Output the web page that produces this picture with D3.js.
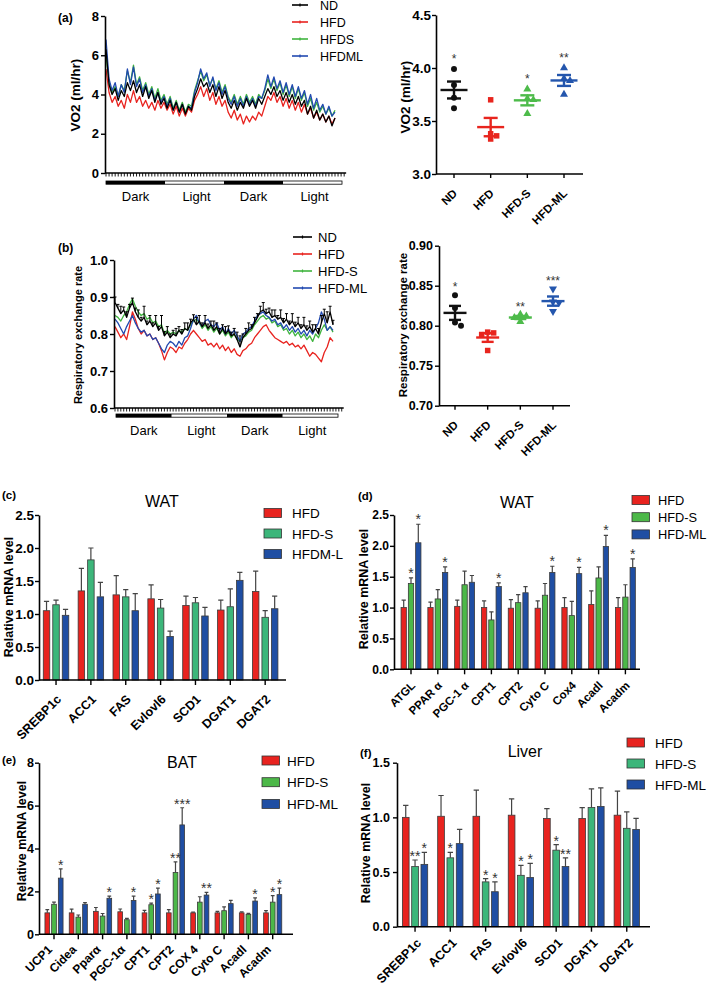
<!DOCTYPE html>
<html><head><meta charset="utf-8">
<script src="https://cdn.jsdelivr.net/npm/d3@7/dist/d3.min.js"></script>
<style>body{margin:0;background:#fff} svg{font-family:Arial,"Liberation Sans",sans-serif}</style>
</head><body>
<svg id="fig" width="709" height="985"></svg>
<script>
// ---------------- DATA ----------------
const phases = ["Dark","Light","Dark","Light"];

const aTimeND = [6.3,4.5,4.0,4.3,3.7,4.2,3.9,4.6,4.2,4.7, 4.1,4.5,3.9,4.4,3.8,4.2,3.6,4.1,3.5,3.8, 3.3,3.7,3.2,3.6,3.1,3.5,3.0,3.4,3.2,3.9, 4.3,4.8,4.4,4.6,4.1,4.5,3.9,4.4,3.8,4.2, 3.6,3.3,3.7,3.2,3.6,3.3,3.8,3.4,3.7,3.3, 3.8,3.5,3.9,4.3,4.0,4.4,3.9,4.2,3.7,4.1, 3.6,4.0,3.5,3.9,3.4,3.7,3.0,3.4,2.8,3.2, 2.7,3.0,2.6,2.9,2.4,2.8];
const aTimeHFD = [5.3,4.1,3.6,3.9,3.4,3.7,3.3,4.0,3.6,4.2, 3.6,3.9,3.4,3.7,3.3,3.6,3.2,3.7,3.3,3.6, 3.2,3.5,3.0,3.4,2.9,3.3,2.9,3.3,3.1,3.7, 4.0,4.4,3.9,4.3,3.7,4.1,3.5,3.9,3.4,3.7, 3.1,2.8,3.2,2.7,3.0,2.5,2.9,2.6,2.9,2.7, 3.1,2.9,3.4,3.9,3.7,4.1,3.6,3.9,3.4,3.8, 3.3,3.7,3.2,3.6,3.1,3.5,3.0,3.3,2.8,3.1, 2.7,3.0,2.6,2.9,2.5,2.8];
const aTimeHFDS = [6.0,4.6,4.1,4.4,3.9,4.5,4.2,5.2,4.6,5.5, 4.5,4.9,4.2,4.6,4.0,4.4,3.8,4.3,3.7,4.0, 3.5,3.9,3.3,3.7,3.2,3.6,3.1,3.5,3.4,4.2, 4.7,5.2,4.7,5.0,4.5,4.8,4.3,4.7,4.1,4.5, 3.9,3.6,4.0,3.5,3.9,3.5,4.0,3.6,3.9,3.5, 4.0,3.8,4.2,4.8,4.3,4.8,4.2,4.6,4.0,4.5, 3.9,4.4,3.8,4.3,3.7,4.1,3.4,3.8,3.2,3.6, 3.1,3.4,3.0,3.3,2.9,3.2];
const aTimeHFDML = [6.8,4.8,4.2,4.6,3.9,4.5,4.1,5.3,4.5,5.4, 4.4,4.8,4.1,4.5,3.9,4.3,3.7,4.1,3.6,3.9, 3.4,3.8,3.2,3.6,3.1,3.5,3.0,3.4,3.3,4.1, 4.6,5.3,4.8,5.1,4.4,4.9,4.2,4.6,4.0,4.4, 3.8,3.5,3.9,3.4,3.8,3.4,3.9,3.5,3.8,3.4, 3.9,3.8,4.3,5.0,4.4,4.9,4.3,4.7,4.1,4.6, 4.0,4.5,3.9,4.4,3.8,4.2,3.5,4.0,3.3,3.8, 3.2,3.5,3.0,3.4,2.9,3.1];

const bTimeND = [0.885,0.87,0.855,0.865,0.845,0.87,0.885,0.86,0.845,0.835, 0.845,0.825,0.835,0.82,0.83,0.81,0.82,0.795,0.805,0.79, 0.80,0.795,0.81,0.80,0.815,0.81,0.83,0.84,0.825,0.835, 0.82,0.83,0.815,0.825,0.81,0.82,0.80,0.815,0.80,0.81, 0.795,0.80,0.785,0.765,0.79,0.80,0.81,0.815,0.83,0.845, 0.86,0.865,0.855,0.86,0.845,0.85,0.84,0.845,0.83,0.84, 0.825,0.835,0.82,0.83,0.815,0.825,0.81,0.82,0.805,0.815, 0.80,0.83,0.855,0.83,0.86,0.825];
const bErrND = [0.015,0.01,0.02,0.008,0.015,0.01,0.012,0.01,0.02,0.01, 0.03,0.01,0.015,0.01,0.02,0.01,0.03,0.012,0.015,0.01, 0.01,0.02,0.01,0.012,0.015,0.02,0.01,0.012,0.02,0.015, 0.01,0.02,0.012,0.01,0.025,0.01,0.015,0.01,0.02,0.012, 0.01,0.015,0.02,0.03,0.01,0.015,0.02,0.01,0.015,0.01, 0.015,0.02,0.012,0.01,0.02,0.015,0.01,0.02,0.012,0.015, 0.01,0.02,0.012,0.015,0.01,0.02,0.012,0.015,0.02,0.01, 0.015,0.02,0.012,0.03,0.015,0.012];
const bTimeHFD = [0.82,0.805,0.79,0.80,0.785,0.82,0.86,0.84,0.815,0.80, 0.81,0.795,0.80,0.785,0.79,0.775,0.755,0.73,0.75,0.765, 0.76,0.75,0.765,0.76,0.775,0.785,0.80,0.81,0.80,0.79, 0.78,0.785,0.77,0.775,0.765,0.775,0.76,0.77,0.755,0.765, 0.75,0.76,0.745,0.74,0.755,0.76,0.77,0.775,0.79,0.80, 0.81,0.82,0.825,0.81,0.80,0.79,0.785,0.78,0.775,0.78, 0.77,0.775,0.765,0.77,0.76,0.77,0.755,0.74,0.75,0.745, 0.735,0.725,0.75,0.765,0.79,0.78];
const bTimeHFDS = [0.85,0.845,0.835,0.85,0.86,0.88,0.895,0.875,0.86,0.85, 0.855,0.84,0.845,0.83,0.835,0.82,0.825,0.80,0.81,0.80, 0.805,0.80,0.81,0.805,0.815,0.81,0.825,0.835,0.84,0.83, 0.815,0.825,0.81,0.82,0.805,0.815,0.80,0.81,0.795,0.805, 0.79,0.80,0.785,0.78,0.79,0.795,0.805,0.81,0.825,0.835, 0.845,0.85,0.84,0.845,0.83,0.835,0.82,0.825,0.81,0.815, 0.80,0.81,0.795,0.805,0.79,0.80,0.785,0.795,0.78,0.80, 0.79,0.81,0.825,0.81,0.82,0.805];
const bTimeHFDML = [0.84,0.83,0.815,0.80,0.82,0.835,0.85,0.83,0.815,0.805, 0.81,0.795,0.80,0.785,0.79,0.775,0.76,0.75,0.77,0.78, 0.775,0.765,0.78,0.77,0.79,0.795,0.815,0.84,0.85,0.83, 0.82,0.835,0.84,0.825,0.82,0.83,0.81,0.82,0.80,0.815, 0.80,0.81,0.795,0.78,0.80,0.805,0.815,0.82,0.835,0.85, 0.855,0.86,0.85,0.845,0.835,0.84,0.825,0.83,0.815,0.825, 0.81,0.82,0.805,0.815,0.80,0.81,0.795,0.81,0.80,0.815, 0.83,0.86,0.84,0.81,0.82,0.81];

const dotGroups = ["ND","HFD","HFD-S","HFD-ML"];
const aPtsND = [3.99,3.84,3.72,3.62];
const aPtsHFD = [3.70,3.38,3.36,3.33];
const aPtsHFDS = [3.80,3.71,3.70,3.57];
const aPtsHFDML = [4.00,3.90,3.88,3.75];
const aStars = ["*","","*","**"];
const bPtsND = [0.838,0.822,0.804,0.800];
const bPtsHFD = [0.792,0.791,0.789,0.769];
const bPtsHFDS = [0.814,0.812,0.810,0.805];
const bPtsHFDML = [0.846,0.830,0.829,0.818];
const bStars = ["*","","**","***"];

const cGenes = ["SREBP1c","ACC1","FAS","Evlovl6","SCD1","DGAT1","DGAT2"];
const cSeries = ["HFD","HFD-S","HFDM-L"];
const cHFD = [1.05,1.35,1.29,1.23,1.13,1.06,1.34];
const cHFDerr = [0.14,0.34,0.29,0.21,0.14,0.15,0.31];
const cHFDS = [1.14,1.82,1.26,1.09,1.17,1.11,0.95];
const cHFDSerr = [0.07,0.18,0.11,0.13,0.08,0.27,0.10];
const cHFDML = [0.98,1.26,1.05,0.66,0.97,1.51,1.08];
const cHFDMLerr = [0.09,0.22,0.26,0.08,0.13,0.12,0.19];
const cStars = [];

const dGenes = ["ATGL","PPAR α","PGC-1 α","CPT1","CPT2","Cyto C","Cox4","Acadl","Acadm"];
const dSeries = ["HFD","HFD-S","HFD-ML"];
const dHFD = [1.0,1.0,1.02,1.0,0.99,0.99,1.0,1.05,1.0];
const dHFDerr = [0.12,0.09,0.10,0.11,0.14,0.12,0.16,0.22,0.16];
const dHFDS = [1.39,1.14,1.37,0.80,1.08,1.20,0.87,1.48,1.17];
const dHFDSerr = [0.09,0.15,0.22,0.13,0.13,0.19,0.23,0.18,0.20];
const dHFDML = [2.05,1.57,1.41,1.34,1.24,1.57,1.55,1.99,1.65];
const dHFDMLerr = [0.30,0.09,0.11,0.06,0.10,0.10,0.10,0.18,0.14];
const dStars = [[0,1,"*"],[0,2,"*"],[1,2,"*"],[3,2,"*"],[5,2,"*"],[6,2,"*"],[7,2,"*"],[8,2,"*"]];

const eGenes = ["UCP1","Cidea","Pparα","PGC-1α","CPT1","CPT2","COX 4","Cyto C","Acadl","Acadm"];
const eSeries = ["HFD","HFD-S","HFD-ML"];
const eHFD = [1.0,1.0,1.07,1.05,1.0,1.0,1.0,1.0,1.0,1.0];
const eHFDerr = [0.15,0.17,0.18,0.13,0.12,0.15,0.03,0.07,0.05,0.10];
const eHFDS = [1.4,0.8,0.85,0.68,1.38,2.88,1.5,1.1,0.93,1.5];
const eHFDSerr = [0.10,0.10,0.12,0.06,0.07,0.50,0.25,0.18,0.05,0.30];
const eHFDML = [2.62,1.4,1.68,1.58,1.88,5.1,1.83,1.43,1.55,1.85];
const eHFDMLerr = [0.43,0.08,0.10,0.20,0.27,0.80,0.12,0.15,0.15,0.30];
const eStars = [[0,2,"*"],[2,2,"*"],[3,2,"*"],[4,1,"*"],[4,2,"*"],[5,1,"**"],[5,2,"***"],[6,2,"**"],[8,2,"*"],[9,1,"*"],[9,2,"*"]];

const fGenes = ["SREBP1c","ACC1","FAS","Evlovl6","SCD1","DGAT1","DGAT2"];
const fSeries = ["HFD","HFD-S","HFD-ML"];
const fHFD = [1.0,1.01,1.01,1.02,0.99,0.99,1.02];
const fHFDerr = [0.11,0.19,0.24,0.15,0.09,0.10,0.22];
const fHFDS = [0.55,0.63,0.41,0.47,0.70,1.09,0.90];
const fHFDSerr = [0.06,0.05,0.03,0.09,0.05,0.17,0.15];
const fHFDML = [0.57,0.76,0.32,0.45,0.55,1.10,0.89];
const fHFDMLerr = [0.11,0.13,0.09,0.13,0.08,0.17,0.10];
const fStars = [[0,1,"**"],[0,2,"*"],[1,1,"*"],[2,1,"*"],[2,2,"*"],[3,1,"*"],[3,2,"*"],[4,1,"*"],[4,2,"**"]];

// ---------------- DRAWING ----------------
const FONT = 'Arial, "Liberation Sans", sans-serif';
const svg = d3.select("#fig");
const lineCol = {black:"#000", red:"#e8231f", green:"#3fb43e", blue:"#2149b0"};
const dotCol = ["#111","#e8251e","#4dbb4a","#2456ad"];

function styleAxis(g, fs){
  g.attr("font-family", FONT).attr("font-size", fs);
  g.select(".domain").attr("stroke","#000").attr("stroke-width",1.6);
  g.selectAll(".tick line").attr("stroke","#000").attr("stroke-width",1.4);
  g.selectAll(".tick text").attr("font-weight","bold").attr("fill","#000");
}
function txt(x,y,s,opt={}){
  const t = svg.append("text").attr("x",x).attr("y",y).text(s)
    .attr("font-family",FONT).attr("font-size",opt.fs||13)
    .attr("font-weight",opt.fw||"normal").attr("fill",opt.fill||"#000")
    .attr("text-anchor",opt.anchor||"start");
  if(opt.rot!==undefined) t.attr("transform",`rotate(${opt.rot},${x},${y})`);
  return t;
}

function tsPanel(o){
  const g = svg.append("g");
  const x = d3.scaleLinear().domain([0,o.series[0].vals.length-1]).range([o.dx0,o.dx1]);
  const y = d3.scaleLinear().domain(o.ydom).range([o.yb,o.yt]);
  const line = d3.line().x((d,i)=>x(i)).y(d=>y(d));
  o.series.forEach(s=>{
    if(s.err){
      g.selectAll(null).data(s.vals).join("path")
        .attr("d",(d,i)=>`M${x(i)},${y(d)}V${y(d+s.err[i])}M${x(i)-1.5},${y(d+s.err[i])}H${x(i)+1.5}`)
        .attr("stroke",s.color).attr("stroke-width",1);
    }
    g.append("path").datum(s.vals).attr("d",line).attr("fill","none")
      .attr("stroke",s.color).attr("stroke-width",1.3).attr("stroke-linejoin","round");
  });
  const ya = g.append("g").attr("transform",`translate(${o.ax},0)`)
    .call(d3.axisLeft(y).tickValues(o.yticks).tickFormat(o.yfmt).tickSize(4).tickPadding(2).tickSizeOuter(0));
  styleAxis(ya, 13);
  const nT = o.nTicks;
  const xt = d3.range(nT);
  g.append("line").attr("x1",o.ax).attr("x2",x(nT-1)+2).attr("y1",o.yb).attr("y2",o.yb)
    .attr("stroke","#000").attr("stroke-width",1.6);
  g.selectAll(null).data(xt).join("line")
    .attr("x1",d=>x(d)).attr("x2",d=>x(d)).attr("y1",o.yb).attr("y2",o.yb+3.5)
    .attr("stroke","#000").attr("stroke-width",0.9);
  const p = d3.scaleLinear().domain([0,phases.length]).range([o.px0,o.px1]);
  g.append("rect").attr("x",p(0)).attr("y",o.barY).attr("width",p(4)-p(0)).attr("height",3.2)
    .attr("fill","#fff").attr("stroke","#000").attr("stroke-width",0.8);
  phases.forEach((ph,i)=>{
    if(ph==="Dark") g.append("rect").attr("x",p(i)).attr("y",o.barY).attr("width",p(i+1)-p(i)).attr("height",3.2).attr("fill","#000");
    txt((p(i)+p(i+1))/2+ (ph==="Light"?2:0), o.labY, ph, {fs:13, anchor:"middle"});
  });
  o.series.slice().sort((a,b)=>a.order-b.order).forEach((s,i)=>{
    const ly = o.legY + i*o.legDy;
    g.append("line").attr("x1",o.legX).attr("x2",o.legX+o.legW).attr("y1",ly).attr("y2",ly)
      .attr("stroke",s.color).attr("stroke-width",1.6);
    g.append("line").attr("x1",o.legX+o.legW/2).attr("x2",o.legX+o.legW/2).attr("y1",ly-1.5).attr("y2",ly+1.5)
      .attr("stroke",s.color).attr("stroke-width",1.2);
    txt(o.legX+o.legW+o.legGap, ly+4.5, s.name, {fs:o.legFs});
  });
}

function dotPanel(o){
  const g = svg.append("g");
  const x = d3.scalePoint().domain(dotGroups).range([o.gx0,o.gx1]);
  const y = d3.scaleLinear().domain(o.ydom).range([o.yb,o.yt]);
  const ya = g.append("g").attr("transform",`translate(${o.ax},0)`)
    .call(d3.axisLeft(y).tickValues(o.yticks).tickFormat(o.yfmt).tickSize(4).tickPadding(o.tickPad).tickSizeOuter(0));
  styleAxis(ya, o.tickFs);
  g.append("line").attr("x1",o.ax).attr("x2",o.axEnd).attr("y1",o.yb).attr("y2",o.yb).attr("stroke","#000").attr("stroke-width",1.6);
  dotGroups.forEach((gr,gi)=>{
    const cx = x(gr);
    g.append("line").attr("x1",cx).attr("x2",cx).attr("y1",o.yb).attr("y2",o.yb+4).attr("stroke","#000").attr("stroke-width",1.4);
    txt(cx+o.lblDx, o.yb+o.lblDy, gr, {fs:11.5, fw:"bold", anchor:"end", rot:-45});
    const pts = o.pts[gi];
    const col = dotCol[gi];
    const m = d3.mean(pts), se = d3.deviation(pts)/Math.sqrt(pts.length);
    const placed = [];
    pts.slice().sort((a,b)=>b-a).forEach(v=>{
      const py = y(v);
      const offs=[0,6,-6,12,-12];
      let dx=0;
      for(const off of offs){
        if(placed.every(q=>Math.hypot(q.dx-off,q.py-py)>=5)){dx=off;break;}
      }
      placed.push({dx,py,v});
    });
    const sym = o.symbols[gi];
    placed.forEach(q=>{
      g.append("path").attr("d",d3.symbol().type(sym.type).size(sym.size)())
        .attr("transform",`translate(${cx+q.dx},${q.py}) rotate(${sym.rot||0})`).attr("fill",col);
    });
    g.append("line").attr("x1",cx-o.mw/2).attr("x2",cx+o.mw/2).attr("y1",y(m)).attr("y2",y(m)).attr("stroke",col).attr("stroke-width",2.4);
    g.append("line").attr("x1",cx).attr("x2",cx).attr("y1",y(m-se)).attr("y2",y(m+se)).attr("stroke",col).attr("stroke-width",2.4);
    [m-se,m+se].forEach(v=>g.append("line").attr("x1",cx-o.sw/2).attr("x2",cx+o.sw/2).attr("y1",y(v)).attr("y2",y(v)).attr("stroke",col).attr("stroke-width",2.4));
    if(o.stars[gi]) txt(cx, y(d3.max(pts))-o.starOff, o.stars[gi], {fs:12, anchor:"middle", fill:"#333"});
  });
  txt(o.ylabX, o.ylabY, o.ylab, {fs:o.ylabFs, fw:"bold", anchor:"middle", rot:-90});
}

function barPanel(o){
  const g = svg.append("g");
  const x = d3.scaleBand().domain(o.genes).range([o.bx0,o.bx1]).padding(0);
  const pin = 1 - o.bw/o.istep;
  const xi = d3.scaleBand().domain([0,1,2]).range([x.bandwidth()/2-1.5*o.istep, x.bandwidth()/2+1.5*o.istep]).paddingInner(pin).paddingOuter(pin/2);
  const y = d3.scaleLinear().domain([0,o.ymax]).range([o.y0,o.y1]);
  const bw = xi.bandwidth();
  o.vals.forEach((vals,s)=>{
    const errs = o.errs[s];
    g.selectAll(null).data(vals).join("path")
      .attr("d",(d,i)=>{const cx=x(o.genes[i])+xi(s)+bw/2, t=y(d), e=y(d+errs[i]), cw=bw*0.4;
        return `M${cx},${t}V${e}M${cx-cw},${e}H${cx+cw}`;})
      .attr("stroke","#444").attr("stroke-width",1.2).attr("fill","none");
    g.selectAll(null).data(vals).join("rect")
      .attr("x",(d,i)=>x(o.genes[i])+xi(s)).attr("y",d=>y(d))
      .attr("width",bw).attr("height",d=>y(0)-y(d))
      .attr("fill",o.colors[s]).attr("stroke","#3a3a3a").attr("stroke-width",0.8);
  });
  o.stars.forEach(([gi,s,lab])=>{
    const cx = x(o.genes[gi])+xi(s)+bw/2;
    const v = o.vals[s][gi]+o.errs[s][gi];
    txt(cx, y(v)+o.starDy, lab, {fs:o.starFs, anchor:"middle", fill:"#333"});
  });
  const ya = g.append("g").attr("transform",`translate(${o.ax},0)`)
    .call(d3.axisLeft(y).tickValues(o.yticks).tickFormat(o.yfmt).tickSize(4).tickPadding(o.tickPad).tickSizeOuter(0));
  styleAxis(ya, o.tickFs);
  g.append("line").attr("x1",o.ax).attr("x2",o.axEnd).attr("y1",o.y0).attr("y2",o.y0).attr("stroke","#000").attr("stroke-width",1.6);
  o.genes.forEach(gn=>{
    const cx = x(gn)+x.bandwidth()/2;
    g.append("line").attr("x1",cx).attr("x2",cx).attr("y1",o.y0).attr("y2",o.y0+5).attr("stroke","#000").attr("stroke-width",1.4);
    txt(cx+o.lblDx, o.y0+o.lblDy, gn, {fs:o.lblFs, fw:"bold", anchor:"end", rot:-45});
  });
  txt(o.titleX, o.titleY, o.title, {fs:16, anchor:"middle"});
  txt(o.ylabX, o.ylabY, "Relative mRNA level", {fs:12.5, fw:"bold", anchor:"middle", rot:-90});
  o.series.forEach((sn,i)=>{
    const ly = o.legY + i*o.legDy;
    g.append("rect").attr("x",o.legX).attr("y",ly-4.5).attr("width",17.5).attr("height",9)
      .attr("fill",o.colors[i]).attr("stroke","#333").attr("stroke-width",0.8);
    txt(o.legX+o.legTx, ly+5, sn, {fs:o.legFs});
  });
}

// ---- Panel (a) ----
txt(58,22,"(a)",{fs:12,fw:"bold"});
tsPanel({series:[
    {name:"HFDS",vals:aTimeHFDS,color:lineCol.green,order:2},
    {name:"HFDML",vals:aTimeHFDML,color:lineCol.blue,order:3},
    {name:"HFD",vals:aTimeHFD,color:lineCol.red,order:1},
    {name:"ND",vals:aTimeND,color:lineCol.black,order:0}],
  dx0:106,dx1:335,ydom:[0,8],yb:173,yt:16,ax:105,yticks:[0,2,4,6,8],yfmt:d3.format("d"),
  nTicks:79,px0:106,px1:342,barY:181,labY:201,
  legX:292,legW:16,legGap:12,legY:5,legDy:17,legFs:12.5});
txt(80,95,"VO2 (ml/hr)",{fs:13.5,fw:"bold",anchor:"middle",rot:-90});

dotPanel({pts:[aPtsND,aPtsHFD,aPtsHFDS,aPtsHFDML],stars:aStars,
  gx0:454,gx1:564,ydom:[3.0,4.5],yb:174,yt:15,ax:436,axEnd:583,yticks:[3.0,3.5,4.0,4.5],yfmt:d3.format(".1f"),
  tickFs:13.5,tickPad:1,
  symbols:[{type:d3.symbolCircle,size:28},{type:d3.symbolSquare,size:30},{type:d3.symbolTriangle,size:28},{type:d3.symbolTriangle,size:28}],
  mw:27,sw:14,starOff:6,lblDx:4,lblDy:20,ylab:"VO2 (ml/hr)",ylabX:410,ylabY:97,ylabFs:13.5});

// ---- Panel (b) ----
txt(58,252,"(b)",{fs:12,fw:"bold"});
tsPanel({series:[
    {name:"HFD",vals:bTimeHFD,color:lineCol.red,order:1},
    {name:"HFD-S",vals:bTimeHFDS,color:lineCol.green,order:2},
    {name:"HFD-ML",vals:bTimeHFDML,color:lineCol.blue,order:3},
    {name:"ND",vals:bTimeND,color:lineCol.black,order:0,err:bErrND}],
  dx0:115,dx1:333,ydom:[0.6,1.0],yb:408,yt:260,ax:114,yticks:[0.6,0.7,0.8,0.9,1.0],yfmt:d3.format(".1f"),
  nTicks:79,px0:116,px1:338,barY:414,labY:435,
  legX:293,legW:19,legGap:6,legY:237,legDy:17,legFs:13});
txt(82,335,"Respiratory exchange rate",{fs:11,fw:"bold",anchor:"middle",rot:-90});

dotPanel({pts:[bPtsND,bPtsHFD,bPtsHFDS,bPtsHFDML],stars:bStars,
  gx0:455,gx1:553,ydom:[0.70,0.90],yb:405.7,yt:245.7,ax:439,axEnd:570,yticks:[0.70,0.75,0.80,0.85,0.90],yfmt:d3.format(".2f"),
  tickFs:12.5,tickPad:2,
  symbols:[{type:d3.symbolCircle,size:28},{type:d3.symbolSquare,size:30},{type:d3.symbolTriangle,size:28},{type:d3.symbolTriangle,size:28,rot:180}],
  mw:23,sw:12,starOff:4,lblDx:4,lblDy:20,ylab:"Respiratory exchange rate",ylabX:407,ylabY:325,ylabFs:11.5});

// ---- Panel (c) ----
txt(2,499,"(c)",{fs:11.5,fw:"bold"});
barPanel({genes:cGenes,series:cSeries,vals:[cHFD,cHFDS,cHFDML],errs:[cHFDerr,cHFDSerr,cHFDMLerr],stars:cStars,
  colors:["#e8231f","#3cb67a","#1f4ea3"],bx0:38.6,bx1:282.6,istep:9.5,bw:6.5,ymax:2.5,y0:680,y1:515,
  ax:39,axEnd:286,yticks:[0,0.5,1,1.5,2,2.5],yfmt:d3.format(".1f"),tickFs:13.5,tickPad:1,
  lblDx:6,lblDy:20,lblFs:12.5,starDy:-1,starFs:14,
  title:"WAT",titleX:162,titleY:507,ylabX:13,ylabY:597,legX:264,legY:513,legDy:20.5,legTx:28,legFs:13.5});

// ---- Panel (d) ----
txt(358,500,"(d)",{fs:11.5,fw:"bold"});
barPanel({genes:dGenes,series:dSeries,vals:[dHFD,dHFDS,dHFDML],errs:[dHFDerr,dHFDSerr,dHFDMLerr],stars:dStars,
  colors:["#e8231f","#4cb848","#1f4ea3"],bx0:397.6,bx1:638.8,istep:7.3,bw:5.3,ymax:2.5,y0:669.3,y1:515,
  ax:394,axEnd:640,yticks:[0,0.5,1,1.5,2,2.5],yfmt:d3.format(".1f"),tickFs:12,tickPad:1,
  lblDx:5,lblDy:17,lblFs:11.5,starDy:0,starFs:14,
  title:"WAT",titleX:517,titleY:508,ylabX:368,ylabY:589,legX:632,legY:500,legDy:17.2,legTx:26,legFs:12.8});

// ---- Panel (e) ----
txt(2,764,"(e)",{fs:11.5,fw:"bold"});
barPanel({genes:eGenes,series:eSeries,vals:[eHFD,eHFDS,eHFDML],errs:[eHFDerr,eHFDSerr,eHFDMLerr],stars:eStars,
  colors:["#e8231f","#4cb848","#1f4ea3"],bx0:41.85,bx1:284.85,istep:6.7,bw:4.7,ymax:8,y0:934.3,y1:762.7,
  ax:39,axEnd:293,yticks:[0,2,4,6,8],yfmt:d3.format("d"),tickFs:12.5,tickPad:1,
  lblDx:-1,lblDy:16,lblFs:12,starDy:1,starFs:14,
  title:"BAT",titleX:182,titleY:768,ylabX:26,ylabY:841,legX:262,legY:760.5,legDy:21.7,legTx:25,legFs:13.5});

// ---- Panel (f) ----
txt(360,757,"(f)",{fs:11.5,fw:"bold"});
barPanel({genes:fGenes,series:fSeries,vals:[fHFD,fHFDS,fHFDML],errs:[fHFDerr,fHFDSerr,fHFDMLerr],stars:fStars,
  colors:["#e8231f","#3cb67a","#1f4ea3"],bx0:397.4,bx1:644.4,istep:9.3,bw:6.7,ymax:1.5,y0:926.7,y1:762.7,
  ax:397,axEnd:650,yticks:[0,0.5,1,1.5],yfmt:d3.format(".1f"),tickFs:12.5,tickPad:3,
  lblDx:7,lblDy:17,lblFs:12.5,starDy:1,starFs:14,
  title:"Liver",titleX:525,titleY:757,ylabX:370,ylabY:843,legX:627,legY:742.5,legDy:21,legTx:28,legFs:13.5});
</script>
</body></html>
